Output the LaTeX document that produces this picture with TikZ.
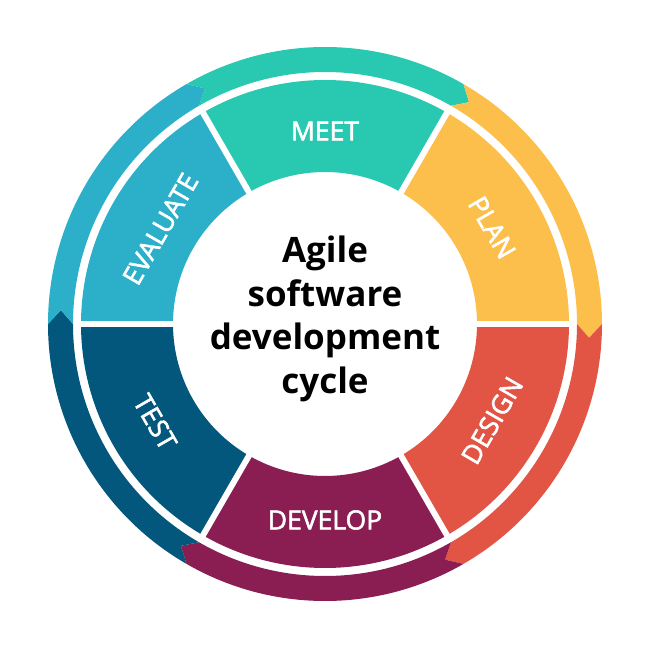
\documentclass[tikz,border=0pt]{standalone}
\usepackage{fontspec}
\setmainfont{Open Sans}
\newfontfamily\lblfont[FakeBold=2]{Open Sans}
\definecolor{cmeet}{HTML}{29C9B1}
\definecolor{cplan}{HTML}{FDBF4C}
\definecolor{cdesign}{HTML}{E25544}
\definecolor{cdevelop}{HTML}{8A1E52}
\definecolor{ctest}{HTML}{03577D}
\definecolor{ceval}{HTML}{2CB0CA}
\begin{document}
\begin{tikzpicture}[x=1pt,y=1pt,
  lbl/.style={text=white,font=\lblfont\fontsize{26.5}{26.5}\selectfont,inner sep=0pt},
  sep/.style={white,line width=6pt}]
\useasboundingbox (-325,-326) rectangle (325,324);
% outer ring arrows (clockwise)
\foreach \c/\a/\b in {cmeet/120/60, cplan/60/0, cdesign/0/-60, cdevelop/-60/-120, ctest/-120/-180, ceval/180/120}{
  \fill[\c] (\a:277pt) arc[start angle=\a, end angle=\b, radius=277pt]
    -- ({\b-3}:264.5pt) -- (\b:252pt)
    arc[start angle=\b, end angle=\a, radius=252pt]
    -- ({\a-3}:264.5pt) -- cycle;
}
% segments
\foreach \c/\a/\b in {cmeet/60/120, cplan/0/60, cdesign/-60/0, cdevelop/-120/-60, ctest/180/240, ceval/120/180}{
  \fill[\c] (\a:244pt) arc[start angle=\a, end angle=\b, radius=244pt]
    -- (\b:152pt) arc[start angle=\b, end angle=\a, radius=152pt] -- cycle;
}
\foreach \t in {0,60,...,300}{
  \draw[sep] (\t:140pt) -- (\t:248pt);
}
% labels
\node[lbl] (meet) at (90:193pt) {MEET};
\node[lbl,rotate=-60] (plan) at (30:193pt) {PLAN};
\node[lbl,rotate=60] (design) at (-30:193pt) {DESIGN};
\node[lbl] (develop) at (-90:196pt) {DEVELOP};
\node[lbl,rotate=-60] (test) at (210:196pt) {TEST};
\node[lbl,rotate=60] (evaluate) at (150:190pt) {EVALUATE};
% centre
\node[align=center,inner sep=0pt,font=\bfseries\fontsize{35}{43.5}\selectfont] (title) at (0,5) {Agile\\software\\development\\cycle};
\end{tikzpicture}
\end{document}
